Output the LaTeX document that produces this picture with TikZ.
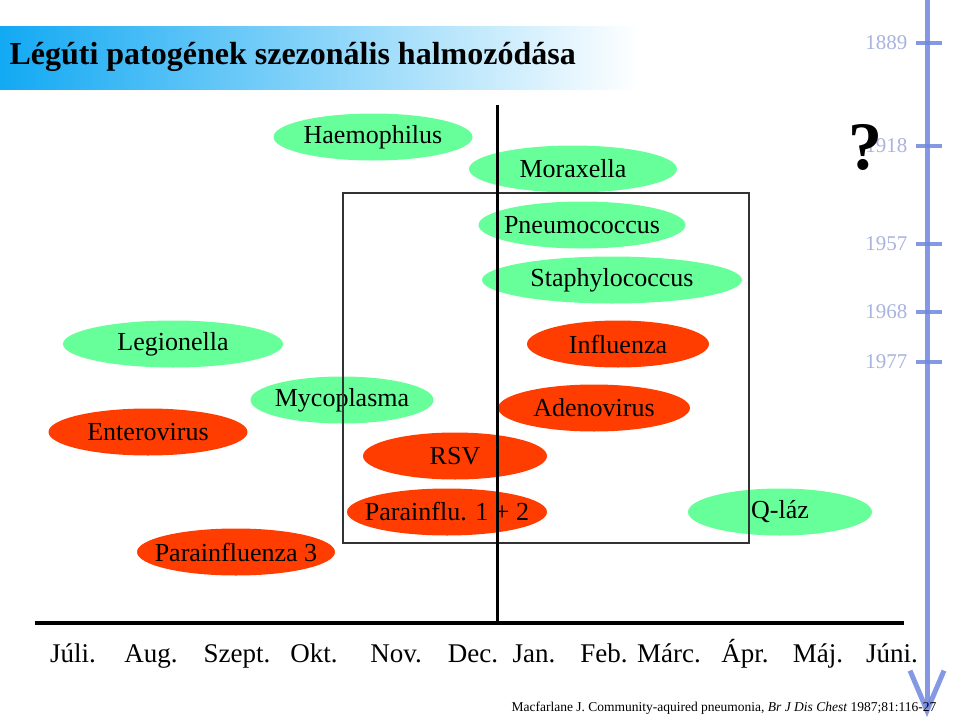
\documentclass[tikz,border=0pt]{standalone}
\usepackage{fontspec}
\setmainfont{Liberation Serif}
\usetikzlibrary{arrows.meta,positioning}
\definecolor{bugGreen}{HTML}{66FF99}
\definecolor{bugRed}  {HTML}{FF3D00}
\definecolor{barBlue} {HTML}{12A9F3}
\definecolor{lineBlue}{HTML}{6F86DE}
\definecolor{yearBlue}{HTML}{A9B3DE}
\newcommand{\fs}[1]{\fontsize{#1}{#1}\selectfont}

\begin{document}
\begin{tikzpicture}[x=1pt,y=-1pt,
      lbl/.style={inner sep=0pt,font=\fs{26}},
      month/.style={font=\fs{27},anchor=base},
      year/.style={font=\fs{21},text=yearBlue,anchor=east}]
    \useasboundingbox (0,0) rectangle (959,720);

    % title bar
    \shade[left color=barBlue,right color=white] (0,26) rectangle (640,89);
    \node[font=\bfseries\fs{32},anchor=west] (title) at (6,57) {Légúti patogének szezonális halmozódása};

    % year timeline
    \draw[lineBlue,opacity=.85,line width=5pt,
          -{Straight Barb[length=40pt,width=34pt,line width=5pt]}] (927,0) coordinate (tTop) -- (927,717) coordinate (tEnd);
    \foreach \y/\yr in {43/1889,146/1918,244/1957,312/1968,362/1977}{
      \draw[lineBlue,opacity=.85,line width=4pt] (916,\y) -- (942,\y);
      \node[year] (y\yr) at (911,\y) {\yr};
    }
    \node[font=\bfseries\fs{68}] (quest) at (865,147) {?};

    % pathogens: name/x/y/width/colour/text
    \foreach \n/\x/\y/\w/\c/\t in {
        haem/373/137/199/bugGreen/Haemophilus,
        morax/573/169/208/bugGreen/Moraxella,
        pneu/582/225/207/bugGreen/Pneumococcus,
        staph/612/280/260/bugGreen/Staphylococcus,
        legio/173/344/220/bugGreen/Legionella,
        myco/342/400/183/bugGreen/Mycoplasma,
        qlaz/780/512/184/bugGreen/Q-láz,
        infl/618/344/182/bugRed/Influenza,
        adeno/594/408/192/bugRed/Adenovirus,
        entero/148/432/199/bugRed/Enterovirus,
        rsv/455/456/184/bugRed/RSV,
        para12/447/512/200/bugRed/Parainflu. 1 + 2,
        para3/236/552/198/bugRed/Parainfluenza 3}{
      \fill[\c] (\x,\y) ellipse [x radius=\w/2, y radius=23.5];
      \node[lbl] (\n) at (\x,\y) {\t};
    }

    % winter box and axes
    \draw[black!80,line width=1.4pt] (343,193) rectangle (749,543);
    \coordinate (axL) at (35,623);
    \coordinate (axR) at (904,623);
    \coordinate (midTop) at (497,105);
    \draw[line width=3.5pt] (axL) -- (axR);
    \draw[line width=3pt] (midTop) -- (midTop |- axL);

    \foreach \x/\m in {73/Júli.,151/Aug.,237/Szept.,314/Okt.,396/Nov.,473/Dec.,
                       534/Jan.,604/Feb.,669/Márc.,745/Ápr.,818/Máj.,892/Júni.}
      \node[month] (m\x) at (\x,662) {\m};

    \node[font=\fs{13.5},anchor=base east] (cite) at (940,711)
      {Macfarlane J. Community-aquired pneumonia, \textit{Br J Dis Chest} 1987;81:116-27};
  \end{tikzpicture}
\end{document}
